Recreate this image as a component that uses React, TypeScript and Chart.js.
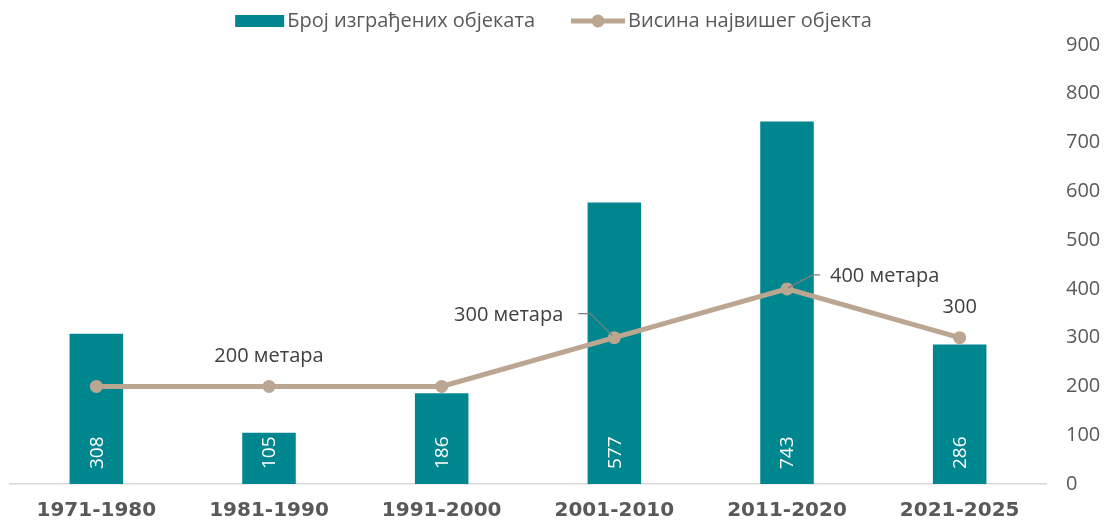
import React, { useEffect, useRef } from "react";
import { Chart, registerables } from "chart.js";

Chart.register(...registerables);

const categories = ["1971-1980", "1981-1990", "1991-2000", "2001-2010", "2011-2020", "2021-2025"];
const buildingCounts = [308, 105, 186, 577, 743, 286];
const tallestHeights = [200, 200, 200, 300, 400, 300];
const yTicks = [0, 100, 200, 300, 400, 500, 600, 700, 800, 900];
const barLabel = "Број изграђених објеката";
const lineLabel = "Висина највишег објекта";
// annotation text per line point (empty = none)
const lineNotes = ["", "200 метара", "", "300 метара", "400 метара", "300"];

const TEAL = "#00868F";
const TAN = "#BBA692";
const GRAY = "#595959";
const FONT = "'Open Sans', sans-serif";

const overlayPlugin = {
  id: "overlay",
  afterDatasetsDraw(chart: any) {
    const ctx = chart.ctx;
    // bar value labels
    const barMeta = chart.getDatasetMeta(0);
    ctx.save();
    ctx.fillStyle = "#ffffff";
    ctx.font = `19px ${FONT}`;
    ctx.textAlign = "left";
    ctx.textBaseline = "middle";
    barMeta.data.forEach((el: any, i: number) => {
      ctx.save();
      ctx.translate(el.x, el.base - 15);
      ctx.rotate(-Math.PI / 2);
      ctx.fillText(String(buildingCounts[i]), 0, 1);
      ctx.restore();
    });
    ctx.restore();

    // line annotations
    const lineMeta = chart.getDatasetMeta(1);
    ctx.save();
    ctx.font = `20px ${FONT}`;
    ctx.fillStyle = "#404040";
    ctx.strokeStyle = "#7f7f7f";
    ctx.lineWidth = 1.2;
    ctx.textBaseline = "middle";
    lineMeta.data.forEach((pt: any, i: number) => {
      const note = lineNotes[i];
      if (!note) return;
      if (i === 1 || i === 5) {
        ctx.textAlign = "center";
        ctx.fillText(note, pt.x, pt.y - 30);
      } else if (i === 3) {
        ctx.beginPath();
        ctx.moveTo(pt.x - 2, pt.y - 2);
        ctx.lineTo(pt.x - 24, pt.y - 24);
        ctx.lineTo(pt.x - 36, pt.y - 24);
        ctx.stroke();
        ctx.textAlign = "right";
        ctx.fillText(note, pt.x - 51, pt.y - 22);
      } else if (i === 4) {
        ctx.beginPath();
        ctx.moveTo(pt.x + 1, pt.y - 1);
        ctx.lineTo(pt.x + 26, pt.y - 14);
        ctx.lineTo(pt.x + 33, pt.y - 14);
        ctx.stroke();
        ctx.textAlign = "left";
        ctx.fillText(note, pt.x + 43, pt.y - 13);
      }
    });
    ctx.restore();

    // legend
    ctx.save();
    ctx.font = `20px ${FONT}`;
    ctx.textBaseline = "middle";
    ctx.textAlign = "left";
    const w1 = ctx.measureText(barLabel).width;
    const w2 = ctx.measureText(lineLabel).width;
    const total = 49 + 3 + w1 + 36 + 54 + 3 + w2;
    let x = chart.width / 2 - total / 2;
    const y = 21;
    ctx.fillStyle = TEAL;
    ctx.fillRect(x, y - 6, 49, 12);
    x += 52;
    ctx.fillStyle = GRAY;
    ctx.fillText(barLabel, x, y);
    x += w1 + 36;
    ctx.strokeStyle = TAN;
    ctx.lineWidth = 5;
    ctx.beginPath();
    ctx.moveTo(x, y);
    ctx.lineTo(x + 54, y);
    ctx.stroke();
    ctx.fillStyle = TAN;
    ctx.beginPath();
    ctx.arc(x + 27, y, 6.5, 0, Math.PI * 2);
    ctx.fill();
    x += 57;
    ctx.fillStyle = GRAY;
    ctx.fillText(lineLabel, x, y);
    ctx.restore();
  },
};

export default function App() {
  const ref = useRef<HTMLCanvasElement>(null);
  useEffect(() => {
    document.body.style.margin = "0";
    const chart = new Chart(ref.current!, {
      type: "bar",
      data: {
        labels: categories,
        datasets: [
          {
            type: "bar",
            label: barLabel,
            data: buildingCounts,
            backgroundColor: TEAL,
            borderWidth: 0,
            barPercentage: 0.31,
            categoryPercentage: 1,
            yAxisID: "y",
            order: 2,
          },
          {
            type: "line",
            label: lineLabel,
            data: tallestHeights,
            borderColor: TAN,
            backgroundColor: TAN,
            borderWidth: 5,
            pointRadius: 6.5,
            pointHoverRadius: 6.5,
            pointBackgroundColor: TAN,
            pointBorderWidth: 0,
            yAxisID: "y",
            order: 1,
          } as any,
        ],
      },
      options: {
        animation: false,
        responsive: false,
        maintainAspectRatio: false,
        layout: { padding: { top: 45, left: 10, right: 7, bottom: 0 } },
        plugins: { legend: { display: false }, tooltip: { enabled: false } },
        scales: {
          x: {
            grid: { display: false, drawTicks: false },
            border: { display: true, color: "#d9d9d9", width: 1.5 },
            afterFit: (axis: any) => {
              axis.height = 38;
            },
            ticks: {
              color: GRAY,
              font: { family: "'DejaVu Sans', sans-serif", size: 20, weight: "bold" },
              padding: 15,
            },
          },
          y: {
            position: "right",
            min: 0,
            max: 900,
            afterBuildTicks: (axis: any) => {
              axis.ticks = yTicks.map((v) => ({ value: v }));
            },
            afterFit: (axis: any) => {
              axis.width = 54;
            },
            grid: { display: false, drawTicks: false },
            border: { display: false },
            ticks: {
              color: GRAY,
              font: { family: FONT, size: 20 },
              padding: 20,
            },
          },
        },
      },
      plugins: [overlayPlugin],
    });
    return () => chart.destroy();
  }, []);
  return (
    <div style={{ width: 1107, height: 522 }}>
      <canvas ref={ref} width={1107} height={522} style={{ display: "block" }} />
    </div>
  );
}
